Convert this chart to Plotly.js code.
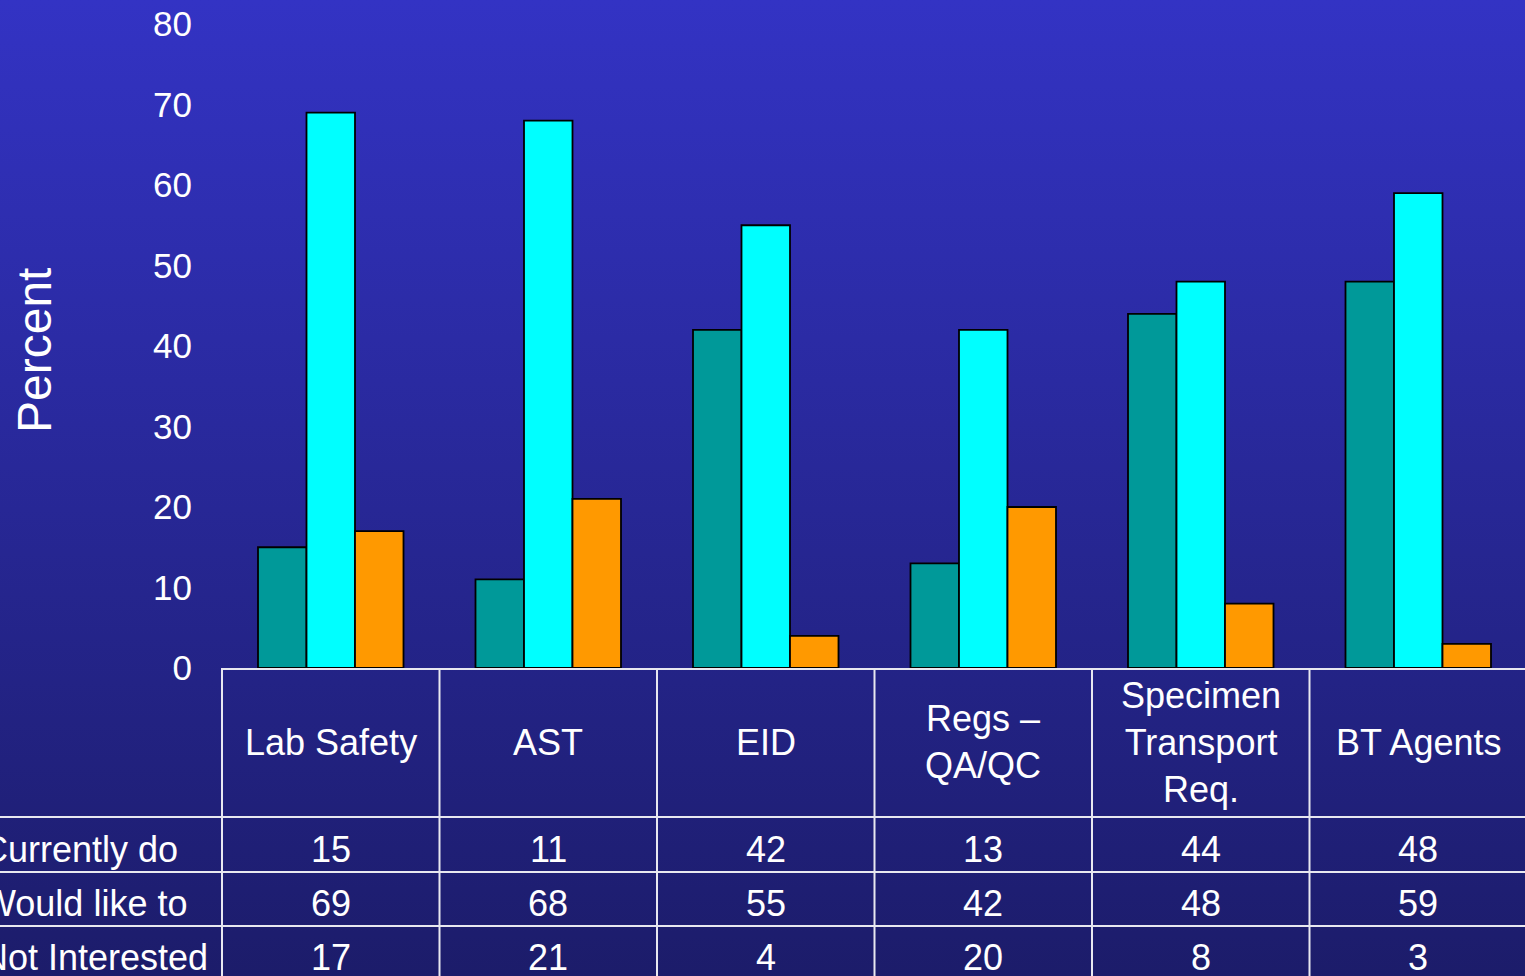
<!DOCTYPE html>
<html>
<head>
<meta charset="utf-8">
<script src="https://cdn.plot.ly/plotly-3.0.1.min.js"></script>
<style>
  html, body {
    margin: 0;
    padding: 0;
    width: 1525px;
    height: 976px;
    overflow: hidden;
    background: linear-gradient(to bottom, #3333c4 0%, #1c1c6a 100%);
  }
  #chart { width: 1525px; height: 976px; }
</style>
</head>
<body>
<div id="chart"></div>
<script>
// Training topics surveyed
const categories = ['Lab Safety', 'AST', 'EID', 'Regs – QA/QC', 'Specimen Transport Req.', 'BT Agents'];
// Header cell text for each topic (line breaks as shown in the table)
const categoryLabels = ['Lab Safety', 'AST', 'EID', 'Regs –<br>QA/QC', 'Specimen<br>Transport<br>Req.', 'BT Agents'];

// Responses, percent
const seriesNames = ['Currently do', 'Would like to', 'Not Interested'];
const currentlyDo = [15, 11, 42, 13, 44, 48];
const wouldLikeTo = [69, 68, 55, 42, 48, 59];
const notInterested = [17, 21, 4, 20, 8, 3];

const yTickValues = [0, 10, 20, 30, 40, 50, 60, 70, 80];

const seriesValues = [currentlyDo, wouldLikeTo, notInterested];
const seriesColors = ['#009999', '#00ffff', '#ff9900'];

const FONT = '"Liberation Sans", Arial, sans-serif';
const LINE = '#e8e8f0';

const traces = seriesValues.map((vals, i) => ({
  type: 'bar',
  name: seriesNames[i],
  x: categories,
  y: vals,
  marker: { color: seriesColors[i], line: { color: '#000000', width: 1.8 } },
  hoverinfo: 'x+y+name'
}));

// Plot-area geometry used to lay out the data table under the bars
const plotTop = 24, plotBottom = 668, plotLeft = 222;
const plotH = plotBottom - plotTop;
const plotW = 1525 - plotLeft;
const py = (pix) => (plotBottom - pix) / plotH;   // pixel row -> paper y
const px = (pix) => (pix - plotLeft) / plotW;     // pixel col -> paper x

const headerMid = py(742);
const rowLines = [py(817), py(872), py(926)];
const rowMids = [py(849), py(903), py(957)];
const tableBottom = py(990);

const shapes = [];
// horizontal rules separating the value rows (they run under the row labels too)
rowLines.forEach(y => shapes.push({
  type: 'line', xref: 'paper', yref: 'paper',
  x0: px(-10), x1: 1.02, y0: y, y1: y,
  line: { color: LINE, width: 2 }
}));
// left edge of the table
shapes.push({
  type: 'line', xref: 'paper', yref: 'paper',
  x0: 0, x1: 0, y0: 0, y1: tableBottom,
  line: { color: LINE, width: 2 }
});
// column separators between topics
categories.forEach((c, i) => {
  if (i === 0) return;
  shapes.push({
    type: 'line', xref: 'x', yref: 'paper',
    x0: i - 0.5, x1: i - 0.5, y0: 0, y1: tableBottom,
    line: { color: LINE, width: 2 }
  });
});

const annotations = [];
const textFont = { family: FONT, size: 36, color: '#ffffff' };
categoryLabels.forEach((lab, i) => annotations.push({
  xref: 'x', yref: 'paper', x: i, y: headerMid,
  text: lab, showarrow: false, font: textFont,
  xanchor: 'center', yanchor: 'middle', align: 'center'
}));
seriesValues.forEach((vals, r) => {
  annotations.push({
    xref: 'paper', yref: 'paper', x: px(-20), y: rowMids[r],
    text: seriesNames[r], showarrow: false, font: textFont,
    xanchor: 'left', yanchor: 'middle'
  });
  vals.forEach((v, i) => annotations.push({
    xref: 'x', yref: 'paper', x: i, y: rowMids[r],
    text: String(v), showarrow: false, font: textFont,
    xanchor: 'center', yanchor: 'middle'
  }));
});
// axis title
annotations.push({
  xref: 'paper', yref: 'paper', x: px(34), y: py(350),
  text: 'Percent', textangle: -90, showarrow: false,
  font: { family: FONT, size: 48, color: '#ffffff' },
  xanchor: 'center', yanchor: 'middle'
});

const layout = {
  width: 1525,
  height: 976,
  margin: { l: plotLeft, r: 0, t: plotTop, b: 976 - plotBottom, pad: 0 },
  paper_bgcolor: 'rgba(0,0,0,0)',
  plot_bgcolor: 'rgba(0,0,0,0)',
  showlegend: false,
  barmode: 'group',
  bargap: 0.331,
  bargroupgap: 0,
  font: { family: FONT, color: '#ffffff' },
  xaxis: {
    type: 'category',
    range: [-0.5, -0.5 + plotW / 217.5],
    showticklabels: false,
    ticks: '',
    showgrid: false,
    zeroline: false,
    showline: true,
    linecolor: LINE,
    linewidth: 2,
    fixedrange: true
  },
  yaxis: {
    range: [0, 80],
    tickvals: yTickValues,
    ticktext: yTickValues.map(String),
    ticks: '',
    ticklabelstandoff: 29,
    tickfont: { family: FONT, size: 35, color: '#ffffff' },
    showgrid: false,
    zeroline: false,
    showline: false,
    fixedrange: true
  },
  shapes: shapes,
  annotations: annotations
};

Plotly.newPlot('chart', traces, layout, { displayModeBar: false, staticPlot: true });
</script>
</body>
</html>
